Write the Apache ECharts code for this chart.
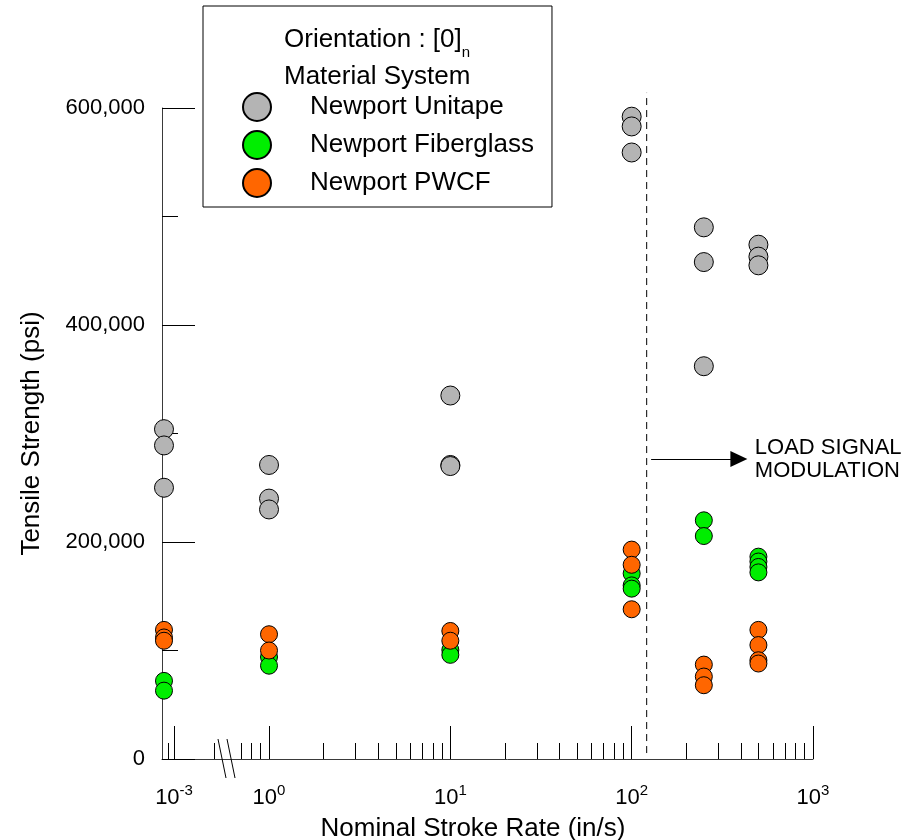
<!DOCTYPE html>
<html>
<head>
<meta charset="utf-8">
<title>Tensile Strength vs Nominal Stroke Rate</title>
<script src="https://cdn.jsdelivr.net/npm/echarts@6/dist/echarts.min.js"></script>
<style>
  html, body { margin: 0; padding: 0; background: #fff; }
  #chart { width: 916px; height: 840px; }
</style>
</head>
<body>
<div id="chart"></div>
<script>
const FONT = '"Liberation Sans", Arial, Helvetica, sans-serif';

// Nominal stroke rates (in/s); the first group sits on the short stub left of the break
const rates = [0.00083, 1, 10, 100, 250, 500];

// Tensile strength (psi), one inner list per stroke rate
const unitape = [
  [304000, 289000, 250000],
  [271000, 240000, 230000],
  [335000, 271000, 270000],
  [592000, 583000, 559000],
  [490000, 458000, 362000],
  [474000, 463000, 455000]
];
const fiberglass = [
  [72000, 63000],
  [94000, 86000],
  [100500, 96000],
  [171000, 160000, 157000],
  [220000, 205500],
  [186500, 182000, 177000, 172000]
];
const pwcf = [
  [119000, 112000, 109000],
  [115000, 100000],
  [118000, 109000],
  [193000, 179000, 138000],
  [87000, 76000, 68000],
  [119000, 105000, 91000, 88000]
];

const seriesNames = ['Newport Unitape', 'Newport Fiberglass', 'Newport PWCF'];
const seriesGroups = [unitape, fiberglass, pwcf];
const seriesColors = ['#b4b4b4', '#00ee00', '#ff6600'];
const symbolSizes = [19, 17, 17];

// Stroke-rate axis: short stub (10^-3) and the main decades, in in/s
const stubRange = [0.0008, 0.00168];
const stubMajorTicks = [0.001];
const stubMinorTicks = [0.0009];
const mainRange = [0.427, 1000];
const mainMajorTicks = [1, 10, 100, 1000];
const mainMinorTicks = [0.5, 0.7, 0.8, 0.9,
  2, 3, 4, 5, 6, 7, 8, 9,
  20, 30, 40, 50, 60, 70, 80, 90,
  200, 300, 400, 500, 600, 700, 800, 900];

// Strength axis (psi)
const strengthRange = [0, 600000];
const strengthMajorStep = 200000;

// Load signal modulation limit and its arrow
const modulationRate = 121;
const modulationSpan = [5500, 614000];
const arrowRates = [128, 390];
const arrowStrength = 276500;

const lg = Math.log10;
const INK = '#000';
const AXIS_LINE = '#3a3a3a';

const chart = echarts.init(document.getElementById('chart'), null, { renderer: 'canvas' });

const supRich = {
  b: { fontSize: 22, fontFamily: FONT, color: INK, lineHeight: 30 },
  s: { fontSize: 15, fontFamily: FONT, color: INK, lineHeight: 30, verticalAlign: 'top' }
};
const powerLabel = v => '{b|10}{s|' + Math.round(v) + '}';

function xAxisBase(gridIndex, range) {
  return {
    type: 'value',
    gridIndex: gridIndex,
    position: 'bottom',
    min: lg(range[0]),
    max: lg(range[1]),
    splitLine: { show: false },
    minorSplitLine: { show: false }
  };
}

const xAxes = [
  Object.assign(xAxisBase(0, stubRange), {
    axisLine: { show: true, lineStyle: { color: AXIS_LINE, width: 1 } },
    axisTick: { show: true, inside: true, length: 33, lineStyle: { color: INK, width: 1 },
      customValues: stubMajorTicks.map(lg) },
    axisLabel: { show: true, margin: 24, customValues: stubMajorTicks.map(lg),
      formatter: powerLabel, rich: supRich }
  }),
  Object.assign(xAxisBase(0, stubRange), {
    axisLine: { show: false },
    axisTick: { show: true, inside: true, length: 16, lineStyle: { color: INK, width: 1 },
      customValues: stubMinorTicks.map(lg) },
    axisLabel: { show: false }
  }),
  Object.assign(xAxisBase(1, mainRange), {
    axisLine: { show: true, lineStyle: { color: AXIS_LINE, width: 1 } },
    axisTick: { show: true, inside: true, length: 33, lineStyle: { color: INK, width: 1 },
      customValues: mainMajorTicks.map(lg) },
    axisLabel: { show: true, margin: 24, customValues: mainMajorTicks.map(lg),
      formatter: powerLabel, rich: supRich },
    name: 'Nominal Stroke Rate (in/s)',
    nameLocation: 'middle',
    nameGap: 57,
    nameTextStyle: { fontSize: 26, fontFamily: FONT, color: INK, padding: [0, 69, 0, 0] }
  }),
  Object.assign(xAxisBase(1, mainRange), {
    axisLine: { show: false },
    axisTick: { show: true, inside: true, length: 16, lineStyle: { color: INK, width: 1 },
      customValues: mainMinorTicks.map(lg) },
    axisLabel: { show: false }
  })
];

const yAxes = [
  {
    type: 'value',
    gridIndex: 0,
    min: strengthRange[0],
    max: strengthRange[1],
    interval: strengthMajorStep,
    axisLine: { show: true, lineStyle: { color: AXIS_LINE, width: 1 } },
    axisTick: { show: true, inside: true, length: 33, lineStyle: { color: INK, width: 1 } },
    minorTick: { show: true, splitNumber: 2, length: 16, lineStyle: { color: INK, width: 1 } },
    axisLabel: { fontSize: 22, fontFamily: FONT, color: INK, margin: 17,
      formatter: v => v.toLocaleString('en-US') },
    splitLine: { show: false },
    minorSplitLine: { show: false },
    name: 'Tensile Strength (psi)',
    nameLocation: 'middle',
    nameGap: 117,
    nameTextStyle: { fontSize: 26, fontFamily: FONT, color: INK }
  },
  {
    type: 'value',
    gridIndex: 1,
    min: strengthRange[0],
    max: strengthRange[1],
    interval: strengthMajorStep,
    show: false
  }
];

// Scatter series: stub group on grid 0, the rest on grid 1
const series = [];
seriesNames.forEach((name, i) => {
  const groups = seriesGroups[i];
  const common = {
    type: 'scatter',
    name: name,
    symbol: 'circle',
    symbolSize: symbolSizes[i],
    clip: false,
    itemStyle: { color: seriesColors[i], borderColor: '#000', borderWidth: 1, opacity: 1 },
    emphasis: { disabled: true }
  };
  series.push(Object.assign({}, common, {
    xAxisIndex: 0, yAxisIndex: 0,
    data: groups[0].map(v => [lg(rates[0]), v])
  }));
  const mainData = [];
  for (let k = 1; k < rates.length; k++) {
    groups[k].forEach(v => mainData.push([lg(rates[k]), v]));
  }
  series.push(Object.assign({}, common, {
    xAxisIndex: 2, yAxisIndex: 1,
    data: mainData
  }));
});

// Dashed limit line with the labelled arrow
series.push({
  type: 'line',
  name: 'modulation',
  xAxisIndex: 2, yAxisIndex: 1,
  clip: false,
  silent: true,
  symbol: 'none',
  lineStyle: { color: '#000', width: 1, type: [7, 5] },
  data: modulationSpan.map(v => [lg(modulationRate), v]),
  markLine: {
    silent: true,
    symbol: ['none', 'triangle'],
    symbolSize: [16, 17],
    lineStyle: { color: '#000', width: 1, type: 'solid' },
    label: {
      show: true,
      position: 'end',
      distance: 16,
      formatter: 'LOAD SIGNAL\nMODULATION',
      fontSize: 22,
      lineHeight: 23,
      padding: [17, 0, 0, 0],
      fontFamily: FONT,
      color: INK
    },
    data: [[
      { coord: [lg(arrowRates[0]), arrowStrength] },
      { coord: [lg(arrowRates[1]), arrowStrength] }
    ]]
  }
});

const option = {
  backgroundColor: '#fff',
  animation: false,
  textStyle: { fontFamily: FONT },
  grid: [
    { left: 162, top: 108, width: 40, height: 651, outerBoundsMode: 'none', containLabel: false },
    { left: 202, top: 108, width: 611, height: 651, outerBoundsMode: 'none', containLabel: false }
  ],
  xAxis: xAxes,
  yAxis: yAxes,
  legend: {
    data: seriesNames,
    orient: 'vertical',
    left: 203,
    top: 6,
    padding: [86, 18, 9, 39],
    itemWidth: 28,
    itemHeight: 28,
    itemGap: 8,
    icon: 'circle',
    borderColor: '#000',
    borderWidth: 1,
    borderRadius: 0,
    selectedMode: false,
    textStyle: { fontSize: 26, fontFamily: FONT, color: INK, lineHeight: 28, padding: [0, 0, 0, 34] }
  },
  graphic: [
    {
      type: 'text', x: 284, y: 40, z: 100, silent: true,
      style: {
        text: 'Orientation : [0]{sub|n}',
        fontSize: 26, fontFamily: FONT, fill: INK,
        verticalAlign: 'middle',
        rich: { sub: { fontSize: 15, fontFamily: FONT, lineHeight: 40, verticalAlign: 'bottom' } }
      }
    },
    {
      type: 'text', x: 284, y: 77, z: 100, silent: true,
      style: { text: 'Material System', fontSize: 26, fontFamily: FONT, fill: INK, verticalAlign: 'middle' }
    },
    // axis break marks
    { type: 'line', z: 100, silent: true, shape: { x1: 218, y1: 739, x2: 226, y2: 778 }, style: { stroke: '#000', lineWidth: 1 } },
    { type: 'line', z: 100, silent: true, shape: { x1: 227, y1: 739, x2: 235, y2: 778 }, style: { stroke: '#000', lineWidth: 1 } }
  ],
  series: series
};

chart.setOption(option);
</script>
</body>
</html>
